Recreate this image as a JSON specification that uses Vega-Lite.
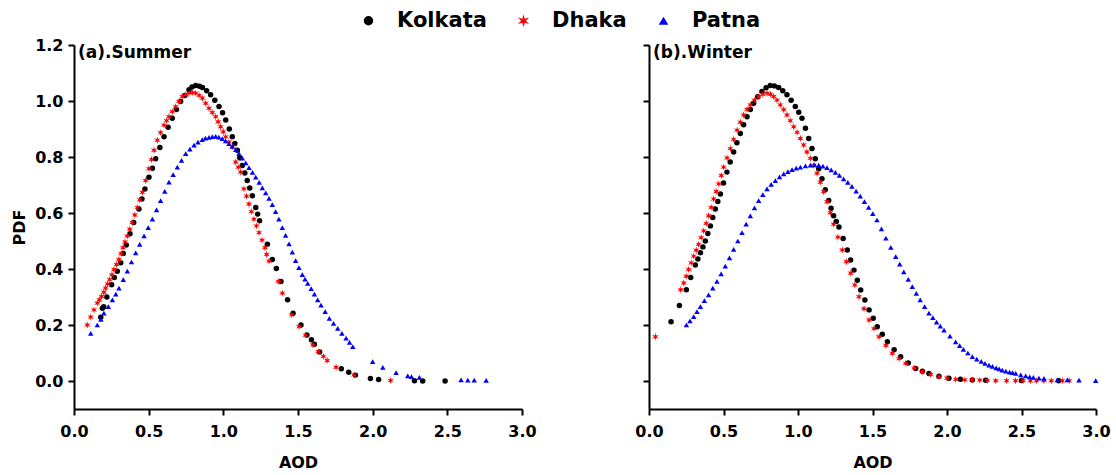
{
  "$schema": "https://vega.github.io/schema/vega-lite/v6.json",
  "padding": {"left": 11, "top": 10, "right": 5, "bottom": 5},
  "background": "white",
  "config": {
    "font": "DejaVu Sans",
    "view": {"stroke": null},
    "axis": {
      "domainColor": "#000000",
      "domainWidth": 2,
      "tickColor": "#000000",
      "tickWidth": 2,
      "grid": false,
      "labelFont": "DejaVu Sans",
      "labelFontWeight": "bold",
      "labelFontSize": 16,
      "labelColor": "#000000",
      "labelOverlap": false,
      "labelFlush": false,
      "titleFont": "DejaVu Sans",
      "titleFontWeight": "bold",
      "titleFontSize": 16,
      "titleColor": "#000000"
    },
    "legend": {
      "labelFont": "DejaVu Sans",
      "labelFontWeight": "bold",
      "labelFontSize": 21,
      "labelColor": "#000000"
    }
  },
  "datasets": {
    "pdf": [
      {"season": "Summer", "site": "Kolkata", "aod": 0.179, "pdf": 0.228},
      {"season": "Summer", "site": "Kolkata", "aod": 0.19, "pdf": 0.26},
      {"season": "Summer", "site": "Kolkata", "aod": 0.199, "pdf": 0.265},
      {"season": "Summer", "site": "Kolkata", "aod": 0.22, "pdf": 0.3},
      {"season": "Summer", "site": "Kolkata", "aod": 0.252, "pdf": 0.344},
      {"season": "Summer", "site": "Kolkata", "aod": 0.27, "pdf": 0.37},
      {"season": "Summer", "site": "Kolkata", "aod": 0.29, "pdf": 0.392},
      {"season": "Summer", "site": "Kolkata", "aod": 0.313, "pdf": 0.422},
      {"season": "Summer", "site": "Kolkata", "aod": 0.33, "pdf": 0.455},
      {"season": "Summer", "site": "Kolkata", "aod": 0.35, "pdf": 0.486},
      {"season": "Summer", "site": "Kolkata", "aod": 0.375, "pdf": 0.526},
      {"season": "Summer", "site": "Kolkata", "aod": 0.4, "pdf": 0.566},
      {"season": "Summer", "site": "Kolkata", "aod": 0.435, "pdf": 0.614},
      {"season": "Summer", "site": "Kolkata", "aod": 0.455, "pdf": 0.65},
      {"season": "Summer", "site": "Kolkata", "aod": 0.475, "pdf": 0.686},
      {"season": "Summer", "site": "Kolkata", "aod": 0.502, "pdf": 0.728},
      {"season": "Summer", "site": "Kolkata", "aod": 0.525, "pdf": 0.76},
      {"season": "Summer", "site": "Kolkata", "aod": 0.547, "pdf": 0.794},
      {"season": "Summer", "site": "Kolkata", "aod": 0.575, "pdf": 0.834},
      {"season": "Summer", "site": "Kolkata", "aod": 0.603, "pdf": 0.872},
      {"season": "Summer", "site": "Kolkata", "aod": 0.63, "pdf": 0.906},
      {"season": "Summer", "site": "Kolkata", "aod": 0.658, "pdf": 0.938},
      {"season": "Summer", "site": "Kolkata", "aod": 0.686, "pdf": 0.97},
      {"season": "Summer", "site": "Kolkata", "aod": 0.714, "pdf": 0.998},
      {"season": "Summer", "site": "Kolkata", "aod": 0.742, "pdf": 1.02},
      {"season": "Summer", "site": "Kolkata", "aod": 0.77, "pdf": 1.04},
      {"season": "Summer", "site": "Kolkata", "aod": 0.79, "pdf": 1.05},
      {"season": "Summer", "site": "Kolkata", "aod": 0.815, "pdf": 1.055},
      {"season": "Summer", "site": "Kolkata", "aod": 0.84, "pdf": 1.053},
      {"season": "Summer", "site": "Kolkata", "aod": 0.86, "pdf": 1.048},
      {"season": "Summer", "site": "Kolkata", "aod": 0.888, "pdf": 1.037},
      {"season": "Summer", "site": "Kolkata", "aod": 0.915, "pdf": 1.022},
      {"season": "Summer", "site": "Kolkata", "aod": 0.943, "pdf": 1.003},
      {"season": "Summer", "site": "Kolkata", "aod": 0.971, "pdf": 0.98},
      {"season": "Summer", "site": "Kolkata", "aod": 0.995, "pdf": 0.958},
      {"season": "Summer", "site": "Kolkata", "aod": 1.016, "pdf": 0.932},
      {"season": "Summer", "site": "Kolkata", "aod": 1.04, "pdf": 0.9},
      {"season": "Summer", "site": "Kolkata", "aod": 1.06, "pdf": 0.872},
      {"season": "Summer", "site": "Kolkata", "aod": 1.077, "pdf": 0.848},
      {"season": "Summer", "site": "Kolkata", "aod": 1.094, "pdf": 0.824},
      {"season": "Summer", "site": "Kolkata", "aod": 1.11, "pdf": 0.797},
      {"season": "Summer", "site": "Kolkata", "aod": 1.127, "pdf": 0.77},
      {"season": "Summer", "site": "Kolkata", "aod": 1.144, "pdf": 0.743},
      {"season": "Summer", "site": "Kolkata", "aod": 1.16, "pdf": 0.716},
      {"season": "Summer", "site": "Kolkata", "aod": 1.177, "pdf": 0.689},
      {"season": "Summer", "site": "Kolkata", "aod": 1.194, "pdf": 0.662},
      {"season": "Summer", "site": "Kolkata", "aod": 1.217, "pdf": 0.62},
      {"season": "Summer", "site": "Kolkata", "aod": 1.23, "pdf": 0.596},
      {"season": "Summer", "site": "Kolkata", "aod": 1.243, "pdf": 0.572},
      {"season": "Summer", "site": "Kolkata", "aod": 1.295, "pdf": 0.488},
      {"season": "Summer", "site": "Kolkata", "aod": 1.328, "pdf": 0.434},
      {"season": "Summer", "site": "Kolkata", "aod": 1.355, "pdf": 0.402},
      {"season": "Summer", "site": "Kolkata", "aod": 1.386, "pdf": 0.355},
      {"season": "Summer", "site": "Kolkata", "aod": 1.43, "pdf": 0.29},
      {"season": "Summer", "site": "Kolkata", "aod": 1.467, "pdf": 0.242},
      {"season": "Summer", "site": "Kolkata", "aod": 1.52, "pdf": 0.2},
      {"season": "Summer", "site": "Kolkata", "aod": 1.56, "pdf": 0.164},
      {"season": "Summer", "site": "Kolkata", "aod": 1.59, "pdf": 0.147},
      {"season": "Summer", "site": "Kolkata", "aod": 1.61, "pdf": 0.131},
      {"season": "Summer", "site": "Kolkata", "aod": 1.645, "pdf": 0.104},
      {"season": "Summer", "site": "Kolkata", "aod": 1.79, "pdf": 0.044},
      {"season": "Summer", "site": "Kolkata", "aod": 1.84, "pdf": 0.031},
      {"season": "Summer", "site": "Kolkata", "aod": 1.885, "pdf": 0.021},
      {"season": "Summer", "site": "Kolkata", "aod": 1.985, "pdf": 0.009},
      {"season": "Summer", "site": "Kolkata", "aod": 2.04, "pdf": 0.005},
      {"season": "Summer", "site": "Kolkata", "aod": 2.28, "pdf": 0.001},
      {"season": "Summer", "site": "Kolkata", "aod": 2.335, "pdf": 0.0},
      {"season": "Summer", "site": "Kolkata", "aod": 2.485, "pdf": 0.0},
      {"season": "Summer", "site": "Dhaka", "aod": 0.089, "pdf": 0.2},
      {"season": "Summer", "site": "Dhaka", "aod": 0.112, "pdf": 0.228},
      {"season": "Summer", "site": "Dhaka", "aod": 0.134, "pdf": 0.254},
      {"season": "Summer", "site": "Dhaka", "aod": 0.156, "pdf": 0.278},
      {"season": "Summer", "site": "Dhaka", "aod": 0.17, "pdf": 0.29},
      {"season": "Summer", "site": "Dhaka", "aod": 0.185, "pdf": 0.302},
      {"season": "Summer", "site": "Dhaka", "aod": 0.2, "pdf": 0.317},
      {"season": "Summer", "site": "Dhaka", "aod": 0.212, "pdf": 0.332},
      {"season": "Summer", "site": "Dhaka", "aod": 0.225, "pdf": 0.347},
      {"season": "Summer", "site": "Dhaka", "aod": 0.239, "pdf": 0.362},
      {"season": "Summer", "site": "Dhaka", "aod": 0.254, "pdf": 0.38},
      {"season": "Summer", "site": "Dhaka", "aod": 0.268, "pdf": 0.398},
      {"season": "Summer", "site": "Dhaka", "aod": 0.285, "pdf": 0.416},
      {"season": "Summer", "site": "Dhaka", "aod": 0.301, "pdf": 0.434},
      {"season": "Summer", "site": "Dhaka", "aod": 0.315, "pdf": 0.455},
      {"season": "Summer", "site": "Dhaka", "aod": 0.328, "pdf": 0.476},
      {"season": "Summer", "site": "Dhaka", "aod": 0.342, "pdf": 0.497},
      {"season": "Summer", "site": "Dhaka", "aod": 0.357, "pdf": 0.518},
      {"season": "Summer", "site": "Dhaka", "aod": 0.373, "pdf": 0.542},
      {"season": "Summer", "site": "Dhaka", "aod": 0.39, "pdf": 0.566},
      {"season": "Summer", "site": "Dhaka", "aod": 0.407, "pdf": 0.593},
      {"season": "Summer", "site": "Dhaka", "aod": 0.424, "pdf": 0.62},
      {"season": "Summer", "site": "Dhaka", "aod": 0.44, "pdf": 0.647},
      {"season": "Summer", "site": "Dhaka", "aod": 0.458, "pdf": 0.674},
      {"season": "Summer", "site": "Dhaka", "aod": 0.48, "pdf": 0.716},
      {"season": "Summer", "site": "Dhaka", "aod": 0.502, "pdf": 0.758},
      {"season": "Summer", "site": "Dhaka", "aod": 0.519, "pdf": 0.791},
      {"season": "Summer", "site": "Dhaka", "aod": 0.536, "pdf": 0.824},
      {"season": "Summer", "site": "Dhaka", "aod": 0.558, "pdf": 0.86},
      {"season": "Summer", "site": "Dhaka", "aod": 0.58, "pdf": 0.887},
      {"season": "Summer", "site": "Dhaka", "aod": 0.603, "pdf": 0.914},
      {"season": "Summer", "site": "Dhaka", "aod": 0.62, "pdf": 0.93},
      {"season": "Summer", "site": "Dhaka", "aod": 0.636, "pdf": 0.944},
      {"season": "Summer", "site": "Dhaka", "aod": 0.658, "pdf": 0.962},
      {"season": "Summer", "site": "Dhaka", "aod": 0.681, "pdf": 0.98},
      {"season": "Summer", "site": "Dhaka", "aod": 0.703, "pdf": 0.998},
      {"season": "Summer", "site": "Dhaka", "aod": 0.725, "pdf": 1.016},
      {"season": "Summer", "site": "Dhaka", "aod": 0.748, "pdf": 1.022},
      {"season": "Summer", "site": "Dhaka", "aod": 0.77, "pdf": 1.028},
      {"season": "Summer", "site": "Dhaka", "aod": 0.792, "pdf": 1.03},
      {"season": "Summer", "site": "Dhaka", "aod": 0.815, "pdf": 1.028},
      {"season": "Summer", "site": "Dhaka", "aod": 0.838, "pdf": 1.02},
      {"season": "Summer", "site": "Dhaka", "aod": 0.86, "pdf": 1.01},
      {"season": "Summer", "site": "Dhaka", "aod": 0.882, "pdf": 0.992},
      {"season": "Summer", "site": "Dhaka", "aod": 0.904, "pdf": 0.974},
      {"season": "Summer", "site": "Dhaka", "aod": 0.926, "pdf": 0.959},
      {"season": "Summer", "site": "Dhaka", "aod": 0.949, "pdf": 0.944},
      {"season": "Summer", "site": "Dhaka", "aod": 0.965, "pdf": 0.926},
      {"season": "Summer", "site": "Dhaka", "aod": 0.982, "pdf": 0.908},
      {"season": "Summer", "site": "Dhaka", "aod": 0.999, "pdf": 0.89},
      {"season": "Summer", "site": "Dhaka", "aod": 1.016, "pdf": 0.872},
      {"season": "Summer", "site": "Dhaka", "aod": 1.038, "pdf": 0.854},
      {"season": "Summer", "site": "Dhaka", "aod": 1.06, "pdf": 0.836},
      {"season": "Summer", "site": "Dhaka", "aod": 1.083, "pdf": 0.782},
      {"season": "Summer", "site": "Dhaka", "aod": 1.1, "pdf": 0.764},
      {"season": "Summer", "site": "Dhaka", "aod": 1.116, "pdf": 0.746},
      {"season": "Summer", "site": "Dhaka", "aod": 1.138, "pdf": 0.686},
      {"season": "Summer", "site": "Dhaka", "aod": 1.155, "pdf": 0.66},
      {"season": "Summer", "site": "Dhaka", "aod": 1.172, "pdf": 0.632},
      {"season": "Summer", "site": "Dhaka", "aod": 1.188, "pdf": 0.605},
      {"season": "Summer", "site": "Dhaka", "aod": 1.205, "pdf": 0.578},
      {"season": "Summer", "site": "Dhaka", "aod": 1.222, "pdf": 0.554},
      {"season": "Summer", "site": "Dhaka", "aod": 1.239, "pdf": 0.53},
      {"season": "Summer", "site": "Dhaka", "aod": 1.259, "pdf": 0.503},
      {"season": "Summer", "site": "Dhaka", "aod": 1.279, "pdf": 0.476},
      {"season": "Summer", "site": "Dhaka", "aod": 1.29, "pdf": 0.452},
      {"season": "Summer", "site": "Dhaka", "aod": 1.306, "pdf": 0.428},
      {"season": "Summer", "site": "Dhaka", "aod": 1.368, "pdf": 0.356},
      {"season": "Summer", "site": "Dhaka", "aod": 1.395, "pdf": 0.314},
      {"season": "Summer", "site": "Dhaka", "aod": 1.458, "pdf": 0.236},
      {"season": "Summer", "site": "Dhaka", "aod": 1.507, "pdf": 0.194},
      {"season": "Summer", "site": "Dhaka", "aod": 1.55, "pdf": 0.164},
      {"season": "Summer", "site": "Dhaka", "aod": 1.6, "pdf": 0.129},
      {"season": "Summer", "site": "Dhaka", "aod": 1.635, "pdf": 0.105},
      {"season": "Summer", "site": "Dhaka", "aod": 1.67, "pdf": 0.088},
      {"season": "Summer", "site": "Dhaka", "aod": 1.695, "pdf": 0.073},
      {"season": "Summer", "site": "Dhaka", "aod": 1.755, "pdf": 0.049},
      {"season": "Summer", "site": "Dhaka", "aod": 1.875, "pdf": 0.022},
      {"season": "Summer", "site": "Dhaka", "aod": 2.12, "pdf": 0.002},
      {"season": "Summer", "site": "Patna", "aod": 0.112, "pdf": 0.17},
      {"season": "Summer", "site": "Patna", "aod": 0.156, "pdf": 0.2},
      {"season": "Summer", "site": "Patna", "aod": 0.18, "pdf": 0.22},
      {"season": "Summer", "site": "Patna", "aod": 0.2, "pdf": 0.242},
      {"season": "Summer", "site": "Patna", "aod": 0.23, "pdf": 0.266},
      {"season": "Summer", "site": "Patna", "aod": 0.257, "pdf": 0.29},
      {"season": "Summer", "site": "Patna", "aod": 0.28, "pdf": 0.31},
      {"season": "Summer", "site": "Patna", "aod": 0.301, "pdf": 0.332},
      {"season": "Summer", "site": "Patna", "aod": 0.33, "pdf": 0.362},
      {"season": "Summer", "site": "Patna", "aod": 0.357, "pdf": 0.392},
      {"season": "Summer", "site": "Patna", "aod": 0.385, "pdf": 0.425},
      {"season": "Summer", "site": "Patna", "aod": 0.413, "pdf": 0.458},
      {"season": "Summer", "site": "Patna", "aod": 0.44, "pdf": 0.488},
      {"season": "Summer", "site": "Patna", "aod": 0.469, "pdf": 0.518},
      {"season": "Summer", "site": "Patna", "aod": 0.497, "pdf": 0.548},
      {"season": "Summer", "site": "Patna", "aod": 0.525, "pdf": 0.578},
      {"season": "Summer", "site": "Patna", "aod": 0.553, "pdf": 0.611},
      {"season": "Summer", "site": "Patna", "aod": 0.58, "pdf": 0.644},
      {"season": "Summer", "site": "Patna", "aod": 0.608, "pdf": 0.677},
      {"season": "Summer", "site": "Patna", "aod": 0.636, "pdf": 0.71},
      {"season": "Summer", "site": "Patna", "aod": 0.664, "pdf": 0.737},
      {"season": "Summer", "site": "Patna", "aod": 0.692, "pdf": 0.764},
      {"season": "Summer", "site": "Patna", "aod": 0.72, "pdf": 0.788},
      {"season": "Summer", "site": "Patna", "aod": 0.748, "pdf": 0.812},
      {"season": "Summer", "site": "Patna", "aod": 0.776, "pdf": 0.828},
      {"season": "Summer", "site": "Patna", "aod": 0.804, "pdf": 0.842},
      {"season": "Summer", "site": "Patna", "aod": 0.83, "pdf": 0.853},
      {"season": "Summer", "site": "Patna", "aod": 0.859, "pdf": 0.862},
      {"season": "Summer", "site": "Patna", "aod": 0.88, "pdf": 0.867},
      {"season": "Summer", "site": "Patna", "aod": 0.904, "pdf": 0.87},
      {"season": "Summer", "site": "Patna", "aod": 0.926, "pdf": 0.873},
      {"season": "Summer", "site": "Patna", "aod": 0.949, "pdf": 0.874},
      {"season": "Summer", "site": "Patna", "aod": 0.97, "pdf": 0.871},
      {"season": "Summer", "site": "Patna", "aod": 0.993, "pdf": 0.866},
      {"season": "Summer", "site": "Patna", "aod": 1.015, "pdf": 0.858},
      {"season": "Summer", "site": "Patna", "aod": 1.038, "pdf": 0.848},
      {"season": "Summer", "site": "Patna", "aod": 1.06, "pdf": 0.838},
      {"season": "Summer", "site": "Patna", "aod": 1.083, "pdf": 0.826},
      {"season": "Summer", "site": "Patna", "aod": 1.105, "pdf": 0.812},
      {"season": "Summer", "site": "Patna", "aod": 1.127, "pdf": 0.796},
      {"season": "Summer", "site": "Patna", "aod": 1.15, "pdf": 0.779},
      {"season": "Summer", "site": "Patna", "aod": 1.172, "pdf": 0.762},
      {"season": "Summer", "site": "Patna", "aod": 1.195, "pdf": 0.745},
      {"season": "Summer", "site": "Patna", "aod": 1.217, "pdf": 0.728},
      {"season": "Summer", "site": "Patna", "aod": 1.24, "pdf": 0.709},
      {"season": "Summer", "site": "Patna", "aod": 1.261, "pdf": 0.69},
      {"season": "Summer", "site": "Patna", "aod": 1.284, "pdf": 0.672},
      {"season": "Summer", "site": "Patna", "aod": 1.306, "pdf": 0.652},
      {"season": "Summer", "site": "Patna", "aod": 1.328, "pdf": 0.63},
      {"season": "Summer", "site": "Patna", "aod": 1.35, "pdf": 0.605},
      {"season": "Summer", "site": "Patna", "aod": 1.372, "pdf": 0.578},
      {"season": "Summer", "site": "Patna", "aod": 1.395, "pdf": 0.548},
      {"season": "Summer", "site": "Patna", "aod": 1.417, "pdf": 0.52},
      {"season": "Summer", "site": "Patna", "aod": 1.44, "pdf": 0.49},
      {"season": "Summer", "site": "Patna", "aod": 1.462, "pdf": 0.46},
      {"season": "Summer", "site": "Patna", "aod": 1.484, "pdf": 0.43},
      {"season": "Summer", "site": "Patna", "aod": 1.506, "pdf": 0.405},
      {"season": "Summer", "site": "Patna", "aod": 1.529, "pdf": 0.38},
      {"season": "Summer", "site": "Patna", "aod": 1.547, "pdf": 0.364},
      {"season": "Summer", "site": "Patna", "aod": 1.565, "pdf": 0.349},
      {"season": "Summer", "site": "Patna", "aod": 1.588, "pdf": 0.33},
      {"season": "Summer", "site": "Patna", "aod": 1.61, "pdf": 0.31},
      {"season": "Summer", "site": "Patna", "aod": 1.632, "pdf": 0.29},
      {"season": "Summer", "site": "Patna", "aod": 1.654, "pdf": 0.271},
      {"season": "Summer", "site": "Patna", "aod": 1.682, "pdf": 0.248},
      {"season": "Summer", "site": "Patna", "aod": 1.71, "pdf": 0.224},
      {"season": "Summer", "site": "Patna", "aod": 1.738, "pdf": 0.206},
      {"season": "Summer", "site": "Patna", "aod": 1.766, "pdf": 0.188},
      {"season": "Summer", "site": "Patna", "aod": 1.794, "pdf": 0.17},
      {"season": "Summer", "site": "Patna", "aod": 1.822, "pdf": 0.153},
      {"season": "Summer", "site": "Patna", "aod": 1.845, "pdf": 0.138},
      {"season": "Summer", "site": "Patna", "aod": 1.867, "pdf": 0.123},
      {"season": "Summer", "site": "Patna", "aod": 2.0, "pdf": 0.069},
      {"season": "Summer", "site": "Patna", "aod": 2.068, "pdf": 0.049},
      {"season": "Summer", "site": "Patna", "aod": 2.157, "pdf": 0.03},
      {"season": "Summer", "site": "Patna", "aod": 2.235, "pdf": 0.018},
      {"season": "Summer", "site": "Patna", "aod": 2.26, "pdf": 0.016},
      {"season": "Summer", "site": "Patna", "aod": 2.313, "pdf": 0.013},
      {"season": "Summer", "site": "Patna", "aod": 2.592, "pdf": 0.004},
      {"season": "Summer", "site": "Patna", "aod": 2.637, "pdf": 0.003},
      {"season": "Summer", "site": "Patna", "aod": 2.68, "pdf": 0.003},
      {"season": "Summer", "site": "Patna", "aod": 2.76, "pdf": 0.002},
      {"season": "Winter", "site": "Kolkata", "aod": 0.148, "pdf": 0.212},
      {"season": "Winter", "site": "Kolkata", "aod": 0.204, "pdf": 0.27},
      {"season": "Winter", "site": "Kolkata", "aod": 0.251, "pdf": 0.326},
      {"season": "Winter", "site": "Kolkata", "aod": 0.28, "pdf": 0.37},
      {"season": "Winter", "site": "Kolkata", "aod": 0.311, "pdf": 0.414},
      {"season": "Winter", "site": "Kolkata", "aod": 0.328, "pdf": 0.436},
      {"season": "Winter", "site": "Kolkata", "aod": 0.345, "pdf": 0.458},
      {"season": "Winter", "site": "Kolkata", "aod": 0.362, "pdf": 0.479},
      {"season": "Winter", "site": "Kolkata", "aod": 0.378, "pdf": 0.5},
      {"season": "Winter", "site": "Kolkata", "aod": 0.395, "pdf": 0.527},
      {"season": "Winter", "site": "Kolkata", "aod": 0.412, "pdf": 0.554},
      {"season": "Winter", "site": "Kolkata", "aod": 0.428, "pdf": 0.584},
      {"season": "Winter", "site": "Kolkata", "aod": 0.445, "pdf": 0.614},
      {"season": "Winter", "site": "Kolkata", "aod": 0.462, "pdf": 0.641},
      {"season": "Winter", "site": "Kolkata", "aod": 0.479, "pdf": 0.668},
      {"season": "Winter", "site": "Kolkata", "aod": 0.5, "pdf": 0.707},
      {"season": "Winter", "site": "Kolkata", "aod": 0.523, "pdf": 0.746},
      {"season": "Winter", "site": "Kolkata", "aod": 0.545, "pdf": 0.782},
      {"season": "Winter", "site": "Kolkata", "aod": 0.568, "pdf": 0.818},
      {"season": "Winter", "site": "Kolkata", "aod": 0.59, "pdf": 0.851},
      {"season": "Winter", "site": "Kolkata", "aod": 0.613, "pdf": 0.884},
      {"season": "Winter", "site": "Kolkata", "aod": 0.635, "pdf": 0.915},
      {"season": "Winter", "site": "Kolkata", "aod": 0.658, "pdf": 0.944},
      {"season": "Winter", "site": "Kolkata", "aod": 0.68, "pdf": 0.97},
      {"season": "Winter", "site": "Kolkata", "aod": 0.702, "pdf": 0.992},
      {"season": "Winter", "site": "Kolkata", "aod": 0.73, "pdf": 1.015},
      {"season": "Winter", "site": "Kolkata", "aod": 0.758, "pdf": 1.034},
      {"season": "Winter", "site": "Kolkata", "aod": 0.786, "pdf": 1.047},
      {"season": "Winter", "site": "Kolkata", "aod": 0.814, "pdf": 1.055},
      {"season": "Winter", "site": "Kolkata", "aod": 0.842, "pdf": 1.054},
      {"season": "Winter", "site": "Kolkata", "aod": 0.87, "pdf": 1.048},
      {"season": "Winter", "site": "Kolkata", "aod": 0.898, "pdf": 1.037},
      {"season": "Winter", "site": "Kolkata", "aod": 0.926, "pdf": 1.022},
      {"season": "Winter", "site": "Kolkata", "aod": 0.954, "pdf": 1.003},
      {"season": "Winter", "site": "Kolkata", "aod": 0.982, "pdf": 0.98},
      {"season": "Winter", "site": "Kolkata", "aod": 1.005, "pdf": 0.96},
      {"season": "Winter", "site": "Kolkata", "aod": 1.027, "pdf": 0.938},
      {"season": "Winter", "site": "Kolkata", "aod": 1.05, "pdf": 0.903},
      {"season": "Winter", "site": "Kolkata", "aod": 1.072, "pdf": 0.866},
      {"season": "Winter", "site": "Kolkata", "aod": 1.094, "pdf": 0.83},
      {"season": "Winter", "site": "Kolkata", "aod": 1.116, "pdf": 0.794},
      {"season": "Winter", "site": "Kolkata", "aod": 1.139, "pdf": 0.758},
      {"season": "Winter", "site": "Kolkata", "aod": 1.161, "pdf": 0.722},
      {"season": "Winter", "site": "Kolkata", "aod": 1.183, "pdf": 0.683},
      {"season": "Winter", "site": "Kolkata", "aod": 1.206, "pdf": 0.645},
      {"season": "Winter", "site": "Kolkata", "aod": 1.222, "pdf": 0.617},
      {"season": "Winter", "site": "Kolkata", "aod": 1.239, "pdf": 0.59},
      {"season": "Winter", "site": "Kolkata", "aod": 1.257, "pdf": 0.57},
      {"season": "Winter", "site": "Kolkata", "aod": 1.275, "pdf": 0.55},
      {"season": "Winter", "site": "Kolkata", "aod": 1.303, "pdf": 0.509},
      {"season": "Winter", "site": "Kolkata", "aod": 1.331, "pdf": 0.468},
      {"season": "Winter", "site": "Kolkata", "aod": 1.353, "pdf": 0.432},
      {"season": "Winter", "site": "Kolkata", "aod": 1.376, "pdf": 0.396},
      {"season": "Winter", "site": "Kolkata", "aod": 1.398, "pdf": 0.36},
      {"season": "Winter", "site": "Kolkata", "aod": 1.421, "pdf": 0.325},
      {"season": "Winter", "site": "Kolkata", "aod": 1.449, "pdf": 0.289},
      {"season": "Winter", "site": "Kolkata", "aod": 1.477, "pdf": 0.254},
      {"season": "Winter", "site": "Kolkata", "aod": 1.505, "pdf": 0.224},
      {"season": "Winter", "site": "Kolkata", "aod": 1.532, "pdf": 0.194},
      {"season": "Winter", "site": "Kolkata", "aod": 1.566, "pdf": 0.167},
      {"season": "Winter", "site": "Kolkata", "aod": 1.6, "pdf": 0.14},
      {"season": "Winter", "site": "Kolkata", "aod": 1.645, "pdf": 0.112},
      {"season": "Winter", "site": "Kolkata", "aod": 1.689, "pdf": 0.087},
      {"season": "Winter", "site": "Kolkata", "aod": 1.74, "pdf": 0.064},
      {"season": "Winter", "site": "Kolkata", "aod": 1.79, "pdf": 0.045},
      {"season": "Winter", "site": "Kolkata", "aod": 1.835, "pdf": 0.035},
      {"season": "Winter", "site": "Kolkata", "aod": 1.879, "pdf": 0.027},
      {"season": "Winter", "site": "Kolkata", "aod": 1.946, "pdf": 0.017},
      {"season": "Winter", "site": "Kolkata", "aod": 2.013, "pdf": 0.01},
      {"season": "Winter", "site": "Kolkata", "aod": 2.09, "pdf": 0.006},
      {"season": "Winter", "site": "Kolkata", "aod": 2.17, "pdf": 0.004},
      {"season": "Winter", "site": "Kolkata", "aod": 2.26, "pdf": 0.003},
      {"season": "Winter", "site": "Kolkata", "aod": 2.5, "pdf": 0.002},
      {"season": "Winter", "site": "Kolkata", "aod": 2.75, "pdf": 0.001},
      {"season": "Winter", "site": "Dhaka", "aod": 0.043, "pdf": 0.158},
      {"season": "Winter", "site": "Dhaka", "aod": 0.213, "pdf": 0.326},
      {"season": "Winter", "site": "Dhaka", "aod": 0.233, "pdf": 0.35},
      {"season": "Winter", "site": "Dhaka", "aod": 0.25, "pdf": 0.374},
      {"season": "Winter", "site": "Dhaka", "aod": 0.266, "pdf": 0.398},
      {"season": "Winter", "site": "Dhaka", "aod": 0.283, "pdf": 0.422},
      {"season": "Winter", "site": "Dhaka", "aod": 0.3, "pdf": 0.446},
      {"season": "Winter", "site": "Dhaka", "aod": 0.317, "pdf": 0.467},
      {"season": "Winter", "site": "Dhaka", "aod": 0.333, "pdf": 0.488},
      {"season": "Winter", "site": "Dhaka", "aod": 0.35, "pdf": 0.512},
      {"season": "Winter", "site": "Dhaka", "aod": 0.367, "pdf": 0.536},
      {"season": "Winter", "site": "Dhaka", "aod": 0.384, "pdf": 0.563},
      {"season": "Winter", "site": "Dhaka", "aod": 0.4, "pdf": 0.59},
      {"season": "Winter", "site": "Dhaka", "aod": 0.417, "pdf": 0.62},
      {"season": "Winter", "site": "Dhaka", "aod": 0.434, "pdf": 0.65},
      {"season": "Winter", "site": "Dhaka", "aod": 0.451, "pdf": 0.677},
      {"season": "Winter", "site": "Dhaka", "aod": 0.468, "pdf": 0.704},
      {"season": "Winter", "site": "Dhaka", "aod": 0.485, "pdf": 0.734},
      {"season": "Winter", "site": "Dhaka", "aod": 0.501, "pdf": 0.764},
      {"season": "Winter", "site": "Dhaka", "aod": 0.524, "pdf": 0.797},
      {"season": "Winter", "site": "Dhaka", "aod": 0.546, "pdf": 0.83},
      {"season": "Winter", "site": "Dhaka", "aod": 0.568, "pdf": 0.863},
      {"season": "Winter", "site": "Dhaka", "aod": 0.591, "pdf": 0.896},
      {"season": "Winter", "site": "Dhaka", "aod": 0.613, "pdf": 0.924},
      {"season": "Winter", "site": "Dhaka", "aod": 0.635, "pdf": 0.95},
      {"season": "Winter", "site": "Dhaka", "aod": 0.658, "pdf": 0.97},
      {"season": "Winter", "site": "Dhaka", "aod": 0.68, "pdf": 0.986},
      {"season": "Winter", "site": "Dhaka", "aod": 0.708, "pdf": 1.003},
      {"season": "Winter", "site": "Dhaka", "aod": 0.736, "pdf": 1.016},
      {"season": "Winter", "site": "Dhaka", "aod": 0.764, "pdf": 1.024},
      {"season": "Winter", "site": "Dhaka", "aod": 0.792, "pdf": 1.028},
      {"season": "Winter", "site": "Dhaka", "aod": 0.815, "pdf": 1.024},
      {"season": "Winter", "site": "Dhaka", "aod": 0.837, "pdf": 1.016},
      {"season": "Winter", "site": "Dhaka", "aod": 0.859, "pdf": 1.003},
      {"season": "Winter", "site": "Dhaka", "aod": 0.881, "pdf": 0.986},
      {"season": "Winter", "site": "Dhaka", "aod": 0.904, "pdf": 0.969},
      {"season": "Winter", "site": "Dhaka", "aod": 0.926, "pdf": 0.95},
      {"season": "Winter", "site": "Dhaka", "aod": 0.948, "pdf": 0.93},
      {"season": "Winter", "site": "Dhaka", "aod": 0.971, "pdf": 0.908},
      {"season": "Winter", "site": "Dhaka", "aod": 0.994, "pdf": 0.888},
      {"season": "Winter", "site": "Dhaka", "aod": 1.016, "pdf": 0.866},
      {"season": "Winter", "site": "Dhaka", "aod": 1.038, "pdf": 0.843},
      {"season": "Winter", "site": "Dhaka", "aod": 1.06, "pdf": 0.818},
      {"season": "Winter", "site": "Dhaka", "aod": 1.083, "pdf": 0.795},
      {"season": "Winter", "site": "Dhaka", "aod": 1.105, "pdf": 0.77},
      {"season": "Winter", "site": "Dhaka", "aod": 1.128, "pdf": 0.742},
      {"season": "Winter", "site": "Dhaka", "aod": 1.15, "pdf": 0.71},
      {"season": "Winter", "site": "Dhaka", "aod": 1.172, "pdf": 0.676},
      {"season": "Winter", "site": "Dhaka", "aod": 1.195, "pdf": 0.64},
      {"season": "Winter", "site": "Dhaka", "aod": 1.217, "pdf": 0.601},
      {"season": "Winter", "site": "Dhaka", "aod": 1.239, "pdf": 0.56},
      {"season": "Winter", "site": "Dhaka", "aod": 1.268, "pdf": 0.514},
      {"season": "Winter", "site": "Dhaka", "aod": 1.297, "pdf": 0.468},
      {"season": "Winter", "site": "Dhaka", "aod": 1.325, "pdf": 0.426},
      {"season": "Winter", "site": "Dhaka", "aod": 1.354, "pdf": 0.385},
      {"season": "Winter", "site": "Dhaka", "aod": 1.381, "pdf": 0.343},
      {"season": "Winter", "site": "Dhaka", "aod": 1.409, "pdf": 0.301},
      {"season": "Winter", "site": "Dhaka", "aod": 1.443, "pdf": 0.258},
      {"season": "Winter", "site": "Dhaka", "aod": 1.477, "pdf": 0.218},
      {"season": "Winter", "site": "Dhaka", "aod": 1.51, "pdf": 0.187},
      {"season": "Winter", "site": "Dhaka", "aod": 1.544, "pdf": 0.158},
      {"season": "Winter", "site": "Dhaka", "aod": 1.59, "pdf": 0.127},
      {"season": "Winter", "site": "Dhaka", "aod": 1.633, "pdf": 0.099},
      {"season": "Winter", "site": "Dhaka", "aod": 1.678, "pdf": 0.08},
      {"season": "Winter", "site": "Dhaka", "aod": 1.723, "pdf": 0.063},
      {"season": "Winter", "site": "Dhaka", "aod": 1.78, "pdf": 0.047},
      {"season": "Winter", "site": "Dhaka", "aod": 1.834, "pdf": 0.033},
      {"season": "Winter", "site": "Dhaka", "aod": 1.89, "pdf": 0.023},
      {"season": "Winter", "site": "Dhaka", "aod": 1.946, "pdf": 0.015},
      {"season": "Winter", "site": "Dhaka", "aod": 2.0, "pdf": 0.01},
      {"season": "Winter", "site": "Dhaka", "aod": 2.058, "pdf": 0.006},
      {"season": "Winter", "site": "Dhaka", "aod": 2.12, "pdf": 0.004},
      {"season": "Winter", "site": "Dhaka", "aod": 2.17, "pdf": 0.004},
      {"season": "Winter", "site": "Dhaka", "aod": 2.22, "pdf": 0.003},
      {"season": "Winter", "site": "Dhaka", "aod": 2.27, "pdf": 0.002},
      {"season": "Winter", "site": "Dhaka", "aod": 2.327, "pdf": 0.001},
      {"season": "Winter", "site": "Dhaka", "aod": 2.4, "pdf": 0.001},
      {"season": "Winter", "site": "Dhaka", "aod": 2.46, "pdf": 0.001},
      {"season": "Winter", "site": "Dhaka", "aod": 2.51, "pdf": 0.001},
      {"season": "Winter", "site": "Dhaka", "aod": 2.56, "pdf": 0.001},
      {"season": "Winter", "site": "Dhaka", "aod": 2.6, "pdf": 0.001},
      {"season": "Winter", "site": "Dhaka", "aod": 2.65, "pdf": 0.001},
      {"season": "Winter", "site": "Dhaka", "aod": 2.7, "pdf": 0.001},
      {"season": "Winter", "site": "Dhaka", "aod": 2.774, "pdf": 0.001},
      {"season": "Winter", "site": "Dhaka", "aod": 2.82, "pdf": 0.001},
      {"season": "Winter", "site": "Patna", "aod": 0.251, "pdf": 0.2},
      {"season": "Winter", "site": "Patna", "aod": 0.275, "pdf": 0.215},
      {"season": "Winter", "site": "Patna", "aod": 0.3, "pdf": 0.23},
      {"season": "Winter", "site": "Patna", "aod": 0.322, "pdf": 0.248},
      {"season": "Winter", "site": "Patna", "aod": 0.345, "pdf": 0.266},
      {"season": "Winter", "site": "Patna", "aod": 0.372, "pdf": 0.287},
      {"season": "Winter", "site": "Patna", "aod": 0.4, "pdf": 0.308},
      {"season": "Winter", "site": "Patna", "aod": 0.428, "pdf": 0.332},
      {"season": "Winter", "site": "Patna", "aod": 0.456, "pdf": 0.356},
      {"season": "Winter", "site": "Patna", "aod": 0.484, "pdf": 0.383},
      {"season": "Winter", "site": "Patna", "aod": 0.512, "pdf": 0.41},
      {"season": "Winter", "site": "Patna", "aod": 0.54, "pdf": 0.44},
      {"season": "Winter", "site": "Patna", "aod": 0.568, "pdf": 0.47},
      {"season": "Winter", "site": "Patna", "aod": 0.596, "pdf": 0.5},
      {"season": "Winter", "site": "Patna", "aod": 0.624, "pdf": 0.53},
      {"season": "Winter", "site": "Patna", "aod": 0.652, "pdf": 0.56},
      {"season": "Winter", "site": "Patna", "aod": 0.68, "pdf": 0.59},
      {"season": "Winter", "site": "Patna", "aod": 0.708, "pdf": 0.618},
      {"season": "Winter", "site": "Patna", "aod": 0.736, "pdf": 0.644},
      {"season": "Winter", "site": "Patna", "aod": 0.764, "pdf": 0.666},
      {"season": "Winter", "site": "Patna", "aod": 0.792, "pdf": 0.686},
      {"season": "Winter", "site": "Patna", "aod": 0.82, "pdf": 0.702},
      {"season": "Winter", "site": "Patna", "aod": 0.848, "pdf": 0.716},
      {"season": "Winter", "site": "Patna", "aod": 0.876, "pdf": 0.729},
      {"season": "Winter", "site": "Patna", "aod": 0.904, "pdf": 0.74},
      {"season": "Winter", "site": "Patna", "aod": 0.932, "pdf": 0.748},
      {"season": "Winter", "site": "Patna", "aod": 0.96, "pdf": 0.755},
      {"season": "Winter", "site": "Patna", "aod": 0.988, "pdf": 0.76},
      {"season": "Winter", "site": "Patna", "aod": 1.016, "pdf": 0.764},
      {"season": "Winter", "site": "Patna", "aod": 1.05, "pdf": 0.768},
      {"season": "Winter", "site": "Patna", "aod": 1.083, "pdf": 0.771},
      {"season": "Winter", "site": "Patna", "aod": 1.111, "pdf": 0.772},
      {"season": "Winter", "site": "Patna", "aod": 1.139, "pdf": 0.771},
      {"season": "Winter", "site": "Patna", "aod": 1.167, "pdf": 0.767},
      {"season": "Winter", "site": "Patna", "aod": 1.195, "pdf": 0.762},
      {"season": "Winter", "site": "Patna", "aod": 1.223, "pdf": 0.754},
      {"season": "Winter", "site": "Patna", "aod": 1.251, "pdf": 0.745},
      {"season": "Winter", "site": "Patna", "aod": 1.278, "pdf": 0.734},
      {"season": "Winter", "site": "Patna", "aod": 1.306, "pdf": 0.722},
      {"season": "Winter", "site": "Patna", "aod": 1.334, "pdf": 0.709},
      {"season": "Winter", "site": "Patna", "aod": 1.362, "pdf": 0.695},
      {"season": "Winter", "site": "Patna", "aod": 1.39, "pdf": 0.678},
      {"season": "Winter", "site": "Patna", "aod": 1.418, "pdf": 0.66},
      {"season": "Winter", "site": "Patna", "aod": 1.446, "pdf": 0.641},
      {"season": "Winter", "site": "Patna", "aod": 1.474, "pdf": 0.62},
      {"season": "Winter", "site": "Patna", "aod": 1.502, "pdf": 0.598},
      {"season": "Winter", "site": "Patna", "aod": 1.53, "pdf": 0.575},
      {"season": "Winter", "site": "Patna", "aod": 1.56, "pdf": 0.543},
      {"season": "Winter", "site": "Patna", "aod": 1.59, "pdf": 0.51},
      {"season": "Winter", "site": "Patna", "aod": 1.623, "pdf": 0.477},
      {"season": "Winter", "site": "Patna", "aod": 1.656, "pdf": 0.444},
      {"season": "Winter", "site": "Patna", "aod": 1.683, "pdf": 0.417},
      {"season": "Winter", "site": "Patna", "aod": 1.71, "pdf": 0.39},
      {"season": "Winter", "site": "Patna", "aod": 1.74, "pdf": 0.363},
      {"season": "Winter", "site": "Patna", "aod": 1.767, "pdf": 0.337},
      {"season": "Winter", "site": "Patna", "aod": 1.794, "pdf": 0.313},
      {"season": "Winter", "site": "Patna", "aod": 1.82, "pdf": 0.29},
      {"season": "Winter", "site": "Patna", "aod": 1.85, "pdf": 0.266},
      {"season": "Winter", "site": "Patna", "aod": 1.879, "pdf": 0.242},
      {"season": "Winter", "site": "Patna", "aod": 1.905, "pdf": 0.226},
      {"season": "Winter", "site": "Patna", "aod": 1.93, "pdf": 0.21},
      {"season": "Winter", "site": "Patna", "aod": 1.955, "pdf": 0.196},
      {"season": "Winter", "site": "Patna", "aod": 1.98, "pdf": 0.182},
      {"season": "Winter", "site": "Patna", "aod": 2.02, "pdf": 0.16},
      {"season": "Winter", "site": "Patna", "aod": 2.058, "pdf": 0.14},
      {"season": "Winter", "site": "Patna", "aod": 2.085, "pdf": 0.126},
      {"season": "Winter", "site": "Patna", "aod": 2.11, "pdf": 0.113},
      {"season": "Winter", "site": "Patna", "aod": 2.14, "pdf": 0.1},
      {"season": "Winter", "site": "Patna", "aod": 2.17, "pdf": 0.087},
      {"season": "Winter", "site": "Patna", "aod": 2.2, "pdf": 0.078},
      {"season": "Winter", "site": "Patna", "aod": 2.23, "pdf": 0.07},
      {"season": "Winter", "site": "Patna", "aod": 2.255, "pdf": 0.063},
      {"season": "Winter", "site": "Patna", "aod": 2.282, "pdf": 0.057},
      {"season": "Winter", "site": "Patna", "aod": 2.305, "pdf": 0.052},
      {"season": "Winter", "site": "Patna", "aod": 2.33, "pdf": 0.047},
      {"season": "Winter", "site": "Patna", "aod": 2.35, "pdf": 0.043},
      {"season": "Winter", "site": "Patna", "aod": 2.371, "pdf": 0.039},
      {"season": "Winter", "site": "Patna", "aod": 2.395, "pdf": 0.035},
      {"season": "Winter", "site": "Patna", "aod": 2.42, "pdf": 0.032},
      {"season": "Winter", "site": "Patna", "aod": 2.44, "pdf": 0.03},
      {"season": "Winter", "site": "Patna", "aod": 2.461, "pdf": 0.027},
      {"season": "Winter", "site": "Patna", "aod": 2.495, "pdf": 0.022},
      {"season": "Winter", "site": "Patna", "aod": 2.528, "pdf": 0.018},
      {"season": "Winter", "site": "Patna", "aod": 2.555, "pdf": 0.015},
      {"season": "Winter", "site": "Patna", "aod": 2.58, "pdf": 0.013},
      {"season": "Winter", "site": "Patna", "aod": 2.617, "pdf": 0.01},
      {"season": "Winter", "site": "Patna", "aod": 2.651, "pdf": 0.009},
      {"season": "Winter", "site": "Patna", "aod": 2.74, "pdf": 0.004},
      {"season": "Winter", "site": "Patna", "aod": 2.808, "pdf": 0.004},
      {"season": "Winter", "site": "Patna", "aod": 2.886, "pdf": 0.003},
      {"season": "Winter", "site": "Patna", "aod": 2.998, "pdf": 0.001}
    ]
  },
  "spacing": 97,
  "hconcat": [
    {
      "width": 448,
      "height": 364,
      "layer": [
        {
          "data": {"name": "pdf"},
          "transform": [{"filter": "datum.season === 'Summer'"}],
          "mark": {"type": "point", "filled": true, "opacity": 1, "size": 30},
          "encoding": {
            "x": {
              "field": "aod", "type": "quantitative", "title": "AOD",
              "scale": {"domain": [0, 3], "nice": false, "zero": false},
              "axis": {
                "values": [0, 0.25, 0.5, 0.75, 1, 1.25, 1.5, 1.75, 2, 2.25, 2.5, 2.75, 3],
                "labelExpr": "round(datum.value * 4) % 2 == 0 ? format(datum.value, '.1f') : ''",
                "tickSize": {"condition": {"test": "round(datum.value * 4) % 2 == 0", "value": 6}, "value": 3},
                "labelPadding": 8,
                "titlePadding": 15
              }
            },
            "y": {
              "field": "pdf", "type": "quantitative", "title": "PDF",
              "scale": {"domain": [-0.1, 1.2], "nice": false, "zero": false},
              "axis": {
                "values": [0, 0.1, 0.2, 0.3, 0.4, 0.5, 0.6, 0.7, 0.8, 0.9, 1.0, 1.1, 1.2],
                "labelExpr": "round(datum.value * 10) % 2 == 0 ? format(datum.value, '.1f') : ''",
                "tickSize": {"condition": {"test": "round(datum.value * 10) % 2 == 0", "value": 6}, "value": 3},
                "labelPadding": 5,
                "titlePadding": 7
              }
            },
            "color": {
              "field": "site", "type": "nominal",
              "scale": {"domain": ["Kolkata", "Dhaka", "Patna"], "range": ["#000000", "#ff0000", "#0000ff"]},
              "legend": {"orient": "none", "direction": "horizontal", "title": null, "legendX": 284, "legendY": -35, "symbolSize": 90, "labelOffset": 18, "columnPadding": 26, "symbolStrokeWidth": 0}
            },
            "shape": {
              "field": "site", "type": "nominal",
              "scale": {"domain": ["Kolkata", "Dhaka", "Patna"], "range": ["circle", "M0,-1.35L0.25,-0.433L1.169,-0.675L0.5,0L1.169,0.675L0.25,0.433L0,1.35L-0.25,0.433L-1.169,0.675L-0.5,0L-1.169,-0.675L-0.25,-0.433Z", "triangle-up"]},
              "legend": {"orient": "none", "direction": "horizontal", "title": null, "legendX": 284, "legendY": -35, "symbolSize": 90, "labelOffset": 18, "columnPadding": 26, "symbolStrokeWidth": 0}
            }
          }
        },
        {
          "data": {"values": [{"label": "(a).Summer"}]},
          "mark": {"type": "text", "align": "left", "baseline": "top", "font": "DejaVu Sans", "fontWeight": "bold", "fontSize": 17, "dx": 4, "dy": 0, "color": "#000000"},
          "encoding": {"x": {"datum": 0}, "y": {"datum": 1.2}, "text": {"field": "label"}}
        }
      ]
    },
    {
      "width": 447,
      "height": 364,
      "layer": [
        {
          "data": {"name": "pdf"},
          "transform": [{"filter": "datum.season === 'Winter'"}],
          "mark": {"type": "point", "filled": true, "opacity": 1, "size": 30},
          "encoding": {
            "x": {
              "field": "aod", "type": "quantitative", "title": "AOD",
              "scale": {"domain": [0, 3], "nice": false, "zero": false},
              "axis": {
                "values": [0, 0.25, 0.5, 0.75, 1, 1.25, 1.5, 1.75, 2, 2.25, 2.5, 2.75, 3],
                "labelExpr": "round(datum.value * 4) % 2 == 0 ? format(datum.value, '.1f') : ''",
                "tickSize": {"condition": {"test": "round(datum.value * 4) % 2 == 0", "value": 6}, "value": 3},
                "labelPadding": 8,
                "titlePadding": 15
              }
            },
            "y": {
              "field": "pdf", "type": "quantitative", "title": null,
              "scale": {"domain": [-0.1, 1.2], "nice": false, "zero": false},
              "axis": {
                "values": [0, 0.1, 0.2, 0.3, 0.4, 0.5, 0.6, 0.7, 0.8, 0.9, 1.0, 1.1, 1.2],
                "labels": false,
                "tickSize": {"condition": {"test": "round(datum.value * 10) % 2 == 0", "value": 6}, "value": 3}
              }
            },
            "color": {"field": "site", "type": "nominal"},
            "shape": {"field": "site", "type": "nominal"}
          }
        },
        {
          "data": {"values": [{"label": "(b).Winter"}]},
          "mark": {"type": "text", "align": "left", "baseline": "top", "font": "DejaVu Sans", "fontWeight": "bold", "fontSize": 17, "dx": 4, "dy": 0, "color": "#000000"},
          "encoding": {"x": {"datum": 0}, "y": {"datum": 1.2}, "text": {"field": "label"}}
        }
      ]
    }
  ]
}
